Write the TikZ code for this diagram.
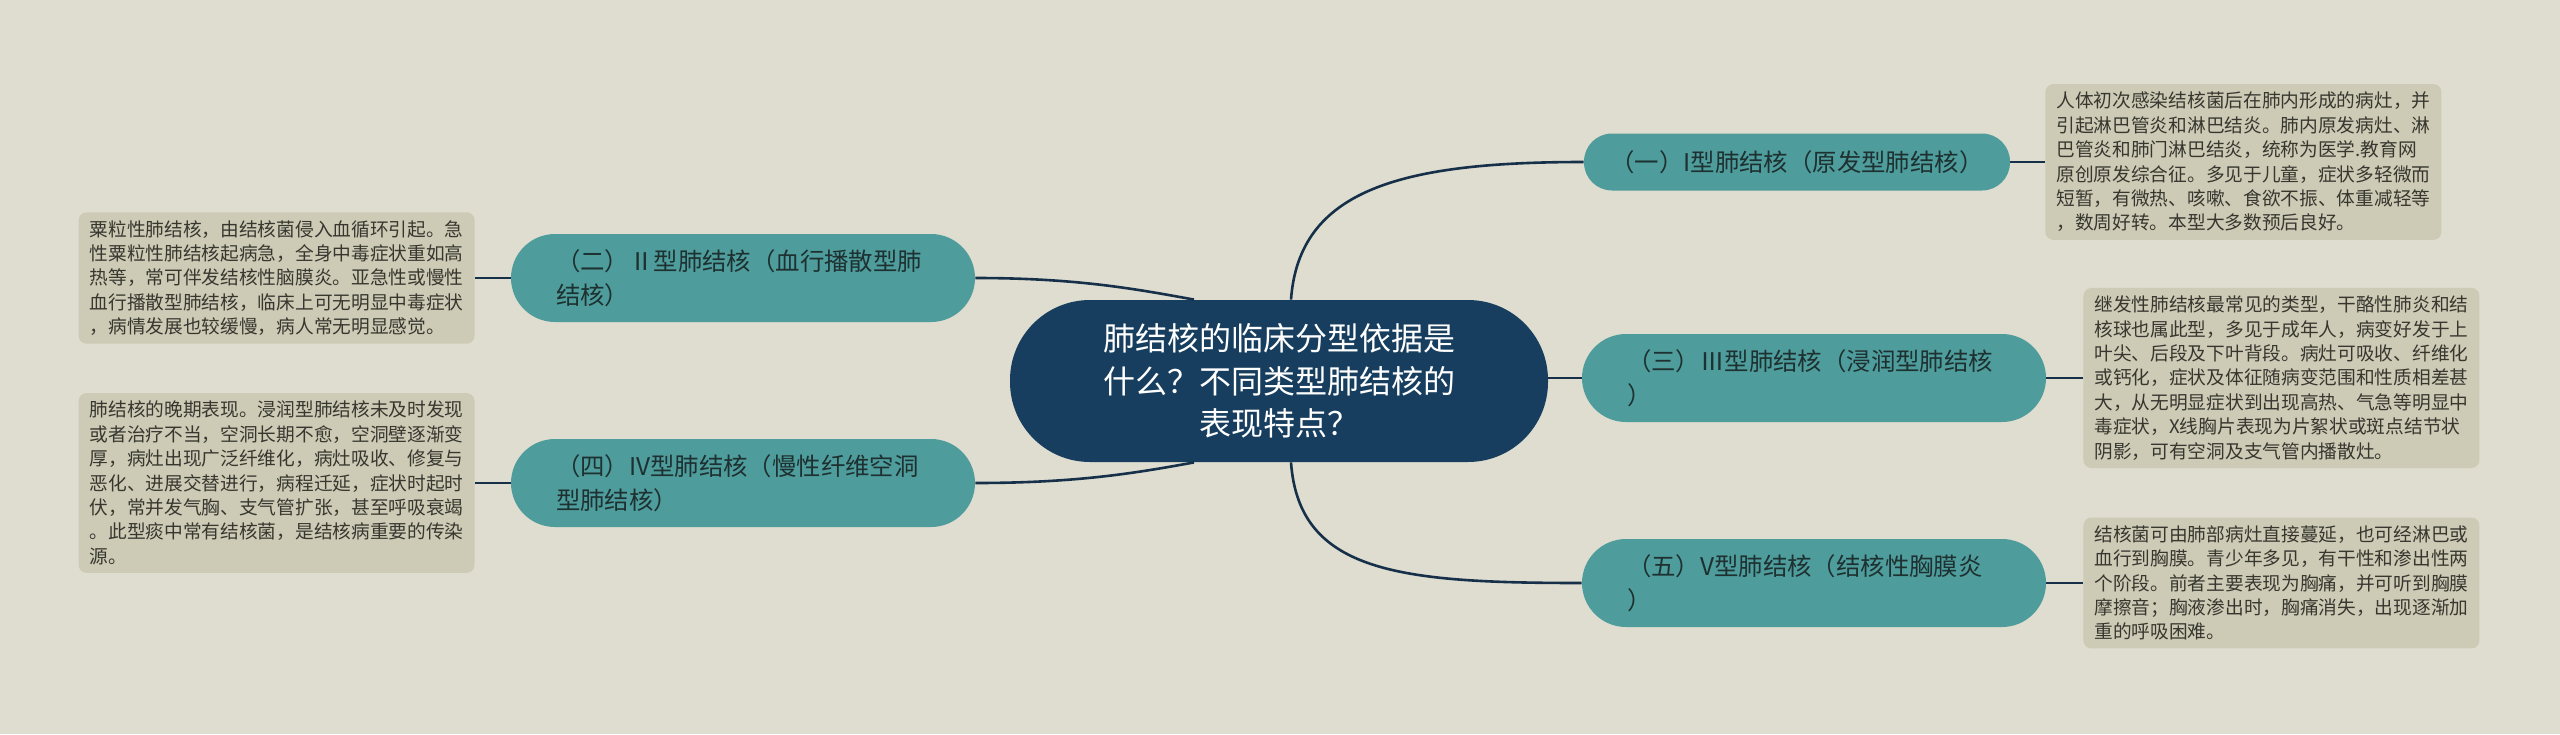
\documentclass[tikz,border=0pt]{standalone}
\usepackage{fontspec}
\setmainfont{Noto Sans CJK SC}

\definecolor{bgcol}{RGB}{223,221,208}
\definecolor{rootblue}{RGB}{23,62,94}
\definecolor{branchteal}{RGB}{78,156,156}
\definecolor{notefill}{RGB}{205,203,181}
\definecolor{linecol}{RGB}{22,48,74}
\definecolor{branchtext}{RGB}{30,48,48}
\definecolor{notetext}{RGB}{55,55,48}

\begin{document}
\begin{tikzpicture}[x=0.5pt, y=-0.5pt,
    rootnode/.style={rectangle, rounded corners=40pt, fill=rootblue, text=white,
        minimum width=269pt, minimum height=81pt, align=center,
        font=\fontsize{16pt}{21.3pt}\selectfont},
    branchnode/.style={rectangle, rounded corners=22pt, fill=branchteal, text=branchtext,
        minimum height=44pt, inner xsep=22.5pt, text width=187pt, align=left,
        font=\fontsize{12.2pt}{17pt}\selectfont},
    notebox/.style={rectangle, rounded corners=4pt, fill=notefill, text=notetext,
        text width=187pt, align=left, inner xsep=5.5pt, inner ysep=4pt,
        font=\fontsize{9.35pt}{12.2pt}\selectfont},
    branchline/.style={draw=linecol, line width=1.3pt}]

    \fill[bgcol] (0,0) rectangle (2560,734);
    \useasboundingbox (0,0) rectangle (2560,734);

    % centre
    \node[rootnode] (root) at (1279,381) {肺结核的临床分型依据是\\什么？不同类型肺结核的\\表现特点？};

    % five types
    \node[branchnode, text width=, align=center, minimum width=213pt, minimum height=28.5pt,
        rounded corners=14pt, inner xsep=4pt] (n1) at (1797,162) {（一）I型肺结核（原发型肺结核）};
    \node[branchnode] (n2) at (743,278) {（二）Ⅱ型肺结核（血行播散型肺\\结核）};
    \node[branchnode] (n3) at (1814,378) {（三）Ⅲ型肺结核（浸润型肺结核\\）};
    \node[branchnode] (n4) at (743,483) {（四）IV型肺结核（慢性纤维空洞\\型肺结核）};
    \node[branchnode] (n5) at (1814,583) {（五）V型肺结核（结核性胸膜炎\\）};

    % notes
    \node[notebox, anchor=west] (d1) at (2045,162) {人体初次感染结核菌后在肺内形成的病灶，并\\引起淋巴管炎和淋巴结炎。肺内原发病灶、淋\\巴管炎和肺门淋巴结炎，统称为医学.教育网\\原创原发综合征。多见于儿童，症状多轻微而\\短暂，有微热、咳嗽、食欲不振、体重减轻等\\，数周好转。本型大多数预后良好。};
    \node[notebox, anchor=east] (d2) at (475,278) {粟粒性肺结核，由结核菌侵入血循环引起。急\\性粟粒性肺结核起病急，全身中毒症状重如高\\热等，常可伴发结核性脑膜炎。亚急性或慢性\\血行播散型肺结核，临床上可无明显中毒症状\\，病情发展也较缓慢，病人常无明显感觉。};
    \node[notebox, anchor=west] (d3) at (2083,378) {继发性肺结核最常见的类型，干酪性肺炎和结\\核球也属此型，多见于成年人，病变好发于上\\叶尖、后段及下叶背段。病灶可吸收、纤维化\\或钙化，症状及体征随病变范围和性质相差甚\\大，从无明显症状到出现高热、气急等明显中\\毒症状，X线胸片表现为片絮状或斑点结节状\\阴影，可有空洞及支气管内播散灶。};
    \node[notebox, anchor=east] (d4) at (475,483) {肺结核的晚期表现。浸润型肺结核未及时发现\\或者治疗不当，空洞长期不愈，空洞壁逐渐变\\厚，病灶出现广泛纤维化，病灶吸收、修复与\\恶化、进展交替进行，病程迁延，症状时起时\\伏，常并发气胸、支气管扩张，甚至呼吸衰竭\\。此型痰中常有结核菌，是结核病重要的传染\\源。};
    \node[notebox, anchor=west] (d5) at (2083,583) {结核菌可由肺部病灶直接蔓延，也可经淋巴或\\血行到胸膜。青少年多见，有干性和渗出性两\\个阶段。前者主要表现为胸痛，并可听到胸膜\\摩擦音；胸液渗出时，胸痛消失，出现逐渐加\\重的呼吸困难。};

    % connectors
    \draw[branchline] ([xshift=6pt]root.north) .. controls +(8,-110) and +(-183,0) .. (n1.west);
    \draw[branchline] ([xshift=6pt]root.south) .. controls +(8,110) and +(-183,0) .. (n5.west);
    \draw[branchline] (root.east |- n3.west) -- (n3.west);
    \draw[branchline] (n2.east) .. controls +(100,0) and +(-60,-11) .. ([xshift=-42.5pt]root.north);
    \draw[branchline] (n4.east) .. controls +(100,0) and +(-60,11) .. ([xshift=-42.5pt]root.south);

    \draw[branchline] (n1.east) -- (d1.west);
    \draw[branchline] (n3.east) -- (d3.west);
    \draw[branchline] (n5.east) -- (d5.west);
    \draw[branchline] (n2.west) -- (d2.east);
    \draw[branchline] (n4.west) -- (d4.east);
\end{tikzpicture}
\end{document}
